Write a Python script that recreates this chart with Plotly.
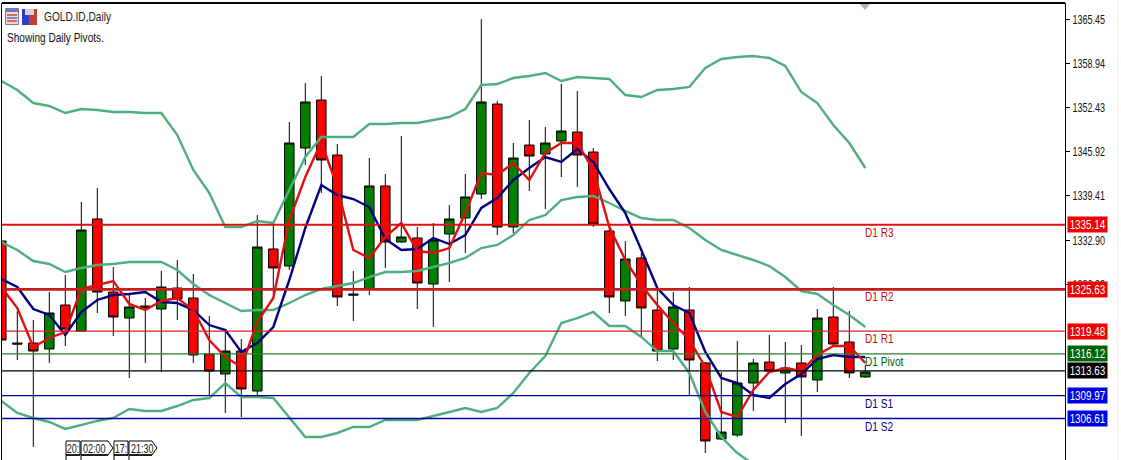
import plotly.graph_objects as go

# Candles, oldest first
opens = [1332.76,1317.73,1317.73,1316.85,1323.33,1319.50,1336.00,1325.24,1321.41,1323.18,
         1322.74,1325.83,1324.36,1316.11,1313.17,1316.55,1310.66,1331.58,1329.07,1346.45,
         1353.52,1345.42,1324.95,1325.69,1340.86,1332.61,1333.20,1326.42,1333.79,1336.14,
         1339.68,1352.93,1334.82,1346.89,1345.57,1347.48,1348.81,1345.86,1334.23,1323.92,
         1330.25,1322.59,1316.85,1322.59,1314.79,1303.59,1304.18,1311.84,1314.93,1313.32,
         1314.79,1312.28,1321.56,1317.88,1312.73]
closes = [1318.17,1317.58,1316.55,1322.15,1319.79,1334.38,1325.24,1321.56,1323.04,1322.89,
          1325.98,1324.21,1315.97,1313.61,1316.55,1310.96,1331.87,1328.78,1347.19,1353.23,
          1344.69,1324.51,1324.80,1340.86,1332.61,1333.35,1326.57,1332.90,1336.00,1339.24,
          1353.23,1334.82,1344.98,1345.27,1347.19,1348.96,1345.42,1335.26,1324.51,1330.10,
          1322.89,1316.55,1323.04,1315.23,1303.30,1304.62,1311.84,1314.79,1313.61,1314.05,
          1312.73,1321.41,1317.58,1313.32,1313.46]
highs = [1332.76,1322.45,1321.12,1325.24,1327.75,1338.50,1340.56,1328.93,1325.10,1324.36,
         1328.34,1329.96,1327.90,1321.71,1319.65,1318.32,1336.58,1335.11,1350.28,1356.03,
         1357.06,1347.04,1328.34,1344.98,1342.62,1348.22,1334.82,1335.41,1338.06,1342.62,
         1365.45,1353.38,1347.19,1350.58,1349.55,1355.88,1354.85,1346.45,1334.67,1332.76,
         1330.99,1325.83,1325.24,1325.98,1314.93,1313.46,1318.03,1315.38,1318.91,1317.88,
         1317.44,1322.74,1325.98,1322.45,1314.49]
lows = [1318.17,1315.23,1302.42,1314.79,1317.29,1319.50,1322.15,1318.76,1312.58,1314.79,
        1313.46,1321.12,1314.79,1309.93,1307.42,1306.83,1309.93,1324.80,1328.48,1343.95,
        1339.83,1323.18,1320.97,1324.80,1328.78,1332.46,1322.74,1320.09,1326.72,1330.99,
        1338.94,1333.64,1333.93,1340.12,1337.47,1342.18,1340.71,1334.82,1322.15,1321.71,
        1318.76,1315.08,1315.23,1309.93,1301.53,1303.45,1303.89,1307.72,1313.46,1305.95,
        1304.04,1310.52,1317.44,1312.58,1312.58]

band_upper = [1356.32,1355.00,1353.08,1352.64,1351.61,1352.20,1352.05,1351.76,1351.76,1351.61,
              1351.61,1348.37,1343.21,1339.83,1334.82,1334.82,1335.70,1335.41,1340.27,1345.13,
              1348.07,1348.07,1348.07,1349.99,1349.99,1350.13,1350.13,1350.58,1351.02,1352.20,
              1355.73,1355.88,1356.76,1357.06,1357.50,1356.32,1356.91,1356.76,1356.62,1354.26,
              1353.96,1355.00,1355.14,1355.44,1358.23,1359.56,1359.85,1360.00,1359.71,1358.53,
              1354.70,1353.08,1349.84,1347.19,1343.51]
band_middle = [1332.61,1331.43,1329.81,1329.37,1328.19,1328.78,1329.22,1329.37,1329.66,1329.66,
               1329.66,1328.48,1326.42,1324.80,1323.62,1322.45,1322.59,1322.59,1323.62,1324.80,
               1325.69,1326.13,1326.57,1327.45,1328.19,1328.19,1328.34,1328.93,1329.52,1330.25,
               1331.72,1332.17,1333.64,1335.85,1336.58,1338.79,1339.24,1339.38,1338.35,1337.18,
               1336.14,1335.85,1335.85,1334.67,1332.90,1331.43,1330.69,1329.96,1329.07,1327.45,
               1325.39,1324.95,1323.33,1321.86,1320.09]
band_lower = [1309.19,1307.42,1306.69,1306.10,1305.07,1305.66,1306.25,1306.69,1308.01,1307.72,
              1307.72,1308.45,1309.34,1309.63,1311.84,1309.78,1309.78,1309.63,1306.83,1303.89,
              1303.89,1304.48,1305.36,1305.36,1306.39,1306.39,1306.39,1306.98,1307.57,1308.16,
              1307.57,1308.16,1310.37,1313.32,1315.82,1320.68,1321.41,1322.30,1320.24,1320.24,
              1318.62,1316.55,1316.55,1313.32,1307.57,1303.89,1301.53,1299.91]
ma_navy = [1327.16,1325.98,1322.74,1321.86,1318.91,1322.30,1324.07,1324.80,1324.95,1325.24,
           1323.77,1323.62,1322.59,1320.38,1319.65,1316.41,1317.73,1320.09,1327.01,1334.67,
           1341.00,1339.53,1338.94,1337.76,1333.05,1331.43,1331.58,1333.20,1332.31,1333.64,
           1337.62,1339.09,1341.74,1343.51,1345.13,1344.39,1346.31,1344.39,1340.41,1336.88,
           1331.43,1325.83,1323.33,1322.15,1316.41,1312.58,1311.84,1310.07,1309.63,1311.69,
           1313.17,1315.38,1315.97,1315.67,1315.67]
ma_red = [1325.98,1322.89,1317.14,1318.47,1319.35,1325.69,1326.28,1326.86,1323.48,1322.59,
          1323.92,1324.36,1322.59,1318.17,1315.67,1314.20,1320.83,1324.36,1335.85,1342.18,
          1347.34,1340.71,1331.43,1330.25,1333.35,1335.41,1331.28,1330.99,1331.72,1336.88,
          1342.77,1342.48,1344.24,1341.74,1345.72,1347.19,1347.19,1343.21,1334.82,1329.96,
          1326.28,1323.33,1320.68,1318.17,1314.20,1307.57,1306.83,1310.81,1313.46,1314.05,
          1313.61,1315.97,1317.29,1317.29,1314.79]

y_ticks = [1365.45,1358.94,1352.43,1345.92,1339.41,1332.90,1326.39]
y_tick_labels = ["1365.45","1358.94","1352.43","1345.92","1339.41","1332.90","1326.39"]

level_names = ["D1 R3","D1 R2","D1 R1","D1 Pivot","Bid","D1 S1","D1 S2"]
level_values = [1335.14,1325.63,1319.48,1316.12,1313.63,1309.97,1306.61]
level_labels = ["1335.14","1325.63","1319.48","1316.12","1313.63","1309.97","1306.61"]
level_line_colors = ["#e01010","#c41e1e","#d42020","#2e7d2e","#000000","#0000a0","#0000a0"]
level_line_widths = [2,2.6,1.3,1.3,1.3,1.3,1.3]
level_text_colors = ["#c01010","#c01010","#c01010","#006400","#000000","#000080","#000080"]
level_tag_colors = ["#f00000","#f00000","#f00000","#006400","#000000","#0000e6","#0000e6"]

W, H = 1121, 460
ML, MR, MT, MB = 2, 56, 3, 0
FONT = "Liberation Sans, sans-serif"

def px(x): return (x - ML) / (W - ML - MR)
def py(y): return 1 - (y - MT) / (H - MT - MB)

xs = list(range(len(opens)))
fig = go.Figure()
fig.add_trace(go.Candlestick(
    x=xs, open=opens, high=highs, low=lows, close=closes,
    increasing=dict(fillcolor="#008000", line=dict(color="#000000", width=1)),
    decreasing=dict(fillcolor="#ff0000", line=dict(color="#000000", width=1)),
    whiskerwidth=0, hoverinfo="skip", showlegend=False))
for vals, color, width in [(band_upper, "#4fae7f", 2.4), (band_middle, "#4fae7f", 2.4),
                           (band_lower, "#4fae7f", 2.4), (ma_navy, "#000080", 2.4),
                           (ma_red, "#e01010", 2.4)]:
    fig.add_trace(go.Scatter(x=xs[:len(vals)], y=vals, mode="lines",
                             line=dict(color=color, width=width),
                             hoverinfo="skip", showlegend=False))

shapes, annotations = [], []
shapes.append(dict(type="line", xref="paper", yref="paper", x0=0, x1=1, y0=1, y1=1,
                   line=dict(color="#000000", width=2), layer="above"))
for name, v, lab, lc, lw, tc, tag in zip(level_names, level_values, level_labels, level_line_colors,
                                         level_line_widths, level_text_colors, level_tag_colors):
    shapes.append(dict(type="line", xref="paper", x0=0, x1=1, yref="y", y0=v, y1=v,
                       line=dict(color=lc, width=lw), layer="above"))
    annotations.append(dict(xref="paper", x=1, xshift=2, xanchor="left", yref="y", y=v,
                            yanchor="middle", text=lab, showarrow=False, width=39, height=15,
                            bgcolor=tag, borderpad=0, align="center",
                            font=dict(family=FONT, size=13, color="#ffffff")))
    if name != "Bid":
        annotations.append(dict(xref="x", x=len(opens) - 1, xanchor="left", xshift=-1,
                                yref="y", y=v, yanchor="top", yshift=1, text=name, showarrow=False,
                                borderpad=0, font=dict(family=FONT, size=13, color=tc)))

def rect(x0, y0, x1, y1, fill, line=None):
    shapes.append(dict(type="rect", xref="paper", yref="paper", x0=px(x0), x1=px(x1),
                       y0=py(y0), y1=py(y1), fillcolor=fill, layer="above",
                       line=dict(color=line or fill, width=1 if line else 0)))

def poly(points, fill=None, line=None, width=1):
    d = "M" + " L".join(f"{px(a):.5f},{py(b):.5f}" for a, b in points)
    if fill:
        d += " Z"
    shapes.append(dict(type="path", xref="paper", yref="paper", path=d, layer="above",
                       fillcolor=fill or "rgba(0,0,0,0)",
                       line=dict(color=line or fill, width=width if line else 0)))

# top-left toolbar icons
rect(5.5, 8.5, 18.5, 24.5, "#f0d8d0", "#7a7a9a")
rect(6, 9, 18, 12, "#6a78d8")
for y, c in [(14, "#d86a5a"), (17, "#7a8ad8"), (20, "#d86a5a")]:
    rect(7, y, 17, y + 2, c)
rect(22, 9, 29, 25, "#2a3ec8")
rect(29, 9, 37, 25, "#c04038")
rect(25, 9, 34, 15, "#d0d0d8")
annotations.append(dict(xref="paper", yref="paper", x=px(43), y=py(17), xanchor="left", yanchor="middle",
                        text="GOLD.ID,Daily", showarrow=False, borderpad=0,
                        font=dict(family=FONT, size=13, color="#222222")))
annotations.append(dict(xref="paper", yref="paper", x=px(6), y=py(38), xanchor="left", yanchor="middle",
                        text="Showing Daily Pivots.", showarrow=False, borderpad=0,
                        font=dict(family=FONT, size=13, color="#111111")))

# bottom time tags
for x0, x1, tip, txt, tx in [(66, 80, None, "20:", 72.5), (81, 108, 113, "02:00", 94),
                             (114, 128, None, "17:", 121), (129, 152, 157, "21:30", 142)]:
    pts = [(x0, 441), (x1, 441)] + ([(tip, 448)] if tip else []) + [(x1, 455), (x0, 455)]
    poly(pts, fill="#ffffff", line="#000000", width=1)
    poly([(x0, 455), (x1, 455)], line="#000000", width=1.5)
    annotations.append(dict(xref="paper", yref="paper", x=px(tx), y=py(448), xanchor="center", yanchor="middle",
                            text=txt, showarrow=False, borderpad=0,
                            font=dict(family=FONT, size=13, color="#111111")))
for x in [66, 81, 114, 129]:
    poly([(x, 455), (x, 460)], line="#000000", width=1)

# small grey marker at the top and faint right edge
poly([(860, 4), (870, 4), (865, 10)], fill="#b0b0b0")
rect(1117, 0, 1118, 460, "#ececec")

fig.update_layout(
    width=W, height=H, margin=dict(l=ML, r=MR, t=MT, b=MB, pad=0, autoexpand=False),
    paper_bgcolor="#ffffff", plot_bgcolor="#ffffff", showlegend=False, boxgap=0.15,
    shapes=shapes, annotations=annotations,
    xaxis=dict(range=[0.044, 66.48], showgrid=False, zeroline=False, showticklabels=False,
               ticks="", showline=False, rangeslider=dict(visible=False), fixedrange=True),
    yaxis=dict(range=[1300.5, 1367.81], side="right", showgrid=False, zeroline=False,
               tickvals=y_ticks, ticktext=y_tick_labels, ticks="outside", ticklen=4, tickwidth=1,
               tickcolor="#000000", showline=True, linecolor="#000000", linewidth=1, mirror=True,
               tickfont=dict(family=FONT, size=13, color="#111111"), fixedrange=True),
)

# The reference font is tall and narrow; no narrow face is installed, so condense the real text.
POST = """
var squeeze = function () {
  document.querySelectorAll('.ytick text').forEach(function (t) {
    if (t.dataset.sq) return; t.dataset.sq = 1;
    t.setAttribute('lengthAdjust', 'spacingAndGlyphs');
    t.setAttribute('textLength', t.getComputedTextLength() * 0.69);
  });
  document.querySelectorAll('.annotation-text').forEach(function (t) {
    if (t.dataset.sq) return; t.dataset.sq = 1;
    var s = t.textContent, b = t.getBBox();
    var left = /^(D1|GOLD|Showing)/.test(s);
    var time = /^\\d\\d:(\\d\\d)?$/.test(s);
    var f = left ? 0.775 : (time ? 0.69 : 0.76);
    if (left) { t.setAttribute('text-anchor', 'start'); t.setAttribute('x', b.x); }
    t.setAttribute('lengthAdjust', 'spacingAndGlyphs');
    t.setAttribute('textLength', b.width * f);
  });
};
squeeze(); setTimeout(squeeze, 50);
document.body.style.margin = '0';
"""
fig.write_html("out.html", post_script=POST, config={"displayModeBar": False})
